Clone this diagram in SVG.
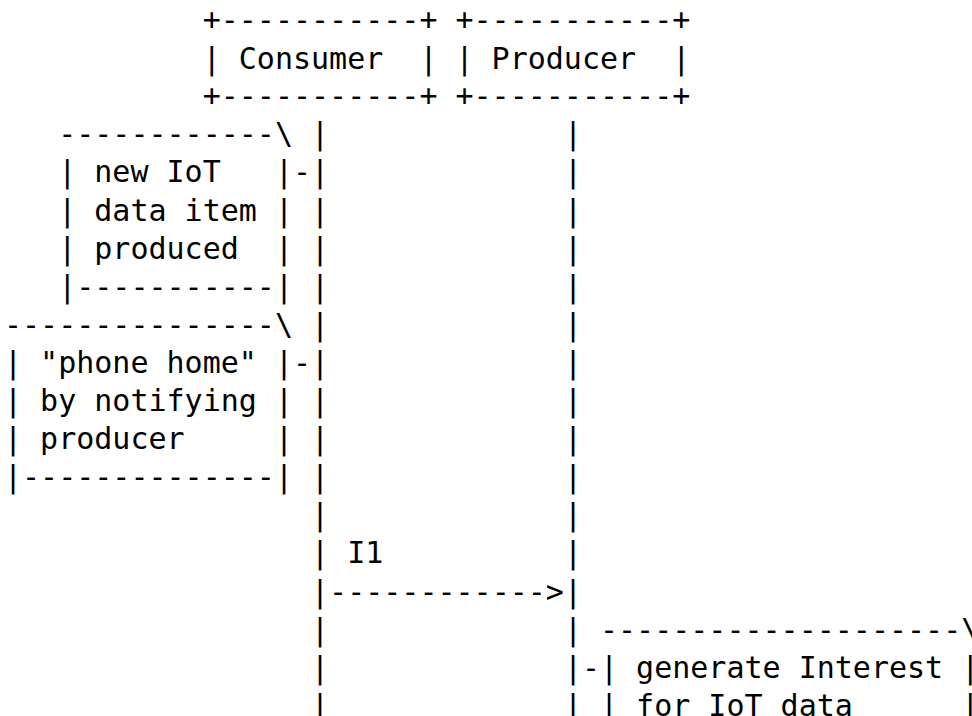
<svg xmlns="http://www.w3.org/2000/svg" width="972" height="716" viewBox="0 0 972 716">
  <style>
    text { font-family: "DejaVu Sans Mono", "Liberation Mono", monospace; font-size: 30px; fill: #000; white-space: pre; }
    .body { font-family: "Noto Sans Mono", "DejaVu Sans Mono", "Liberation Mono", monospace; }
  </style>
  <rect width="972" height="716" fill="#fff"/>

  <!-- participant boxes -->
  <g id="consumer">
    <text x="202.66" y="30" xml:space="preserve">+-----------+</text>
    <text x="202.66" y="68.6" xml:space="preserve">| Consumer  |</text>
    <text x="202.66" y="106.2" xml:space="preserve">+-----------+</text>
  </g>
  <g id="producer">
    <text x="455.5" y="30" xml:space="preserve">+-----------+</text>
    <text x="455.5" y="68.6" xml:space="preserve">| Producer  |</text>
    <text x="455.5" y="106.2" xml:space="preserve">+-----------+</text>
  </g>

  <g class="body">
    <!-- note: new IoT data item produced -->
    <g id="note-new-data">
      <text x="58.18" y="144.3" xml:space="preserve">------------\</text>
      <text x="58.18" y="182.4" xml:space="preserve">| new IoT   |-</text>
      <text x="58.18" y="220.5" xml:space="preserve">| data item |</text>
      <text x="58.18" y="258.6" xml:space="preserve">| produced  |</text>
      <text x="58.18" y="296.7" xml:space="preserve">|-----------|</text>
    </g>

    <!-- note: "phone home" by notifying producer -->
    <g id="note-phone-home">
      <text x="4" y="334.8" xml:space="preserve">---------------\</text>
      <text x="4" y="372.9" xml:space="preserve">| "phone home" |-</text>
      <text x="4" y="411" xml:space="preserve">| by notifying |</text>
      <text x="4" y="449.1" xml:space="preserve">| producer     |</text>
      <text x="4" y="487.2" xml:space="preserve">|--------------|</text>
    </g>

    <!-- note: generate Interest for IoT data -->
    <g id="note-generate-interest">
      <text x="581.92" y="639.6" xml:space="preserve"> --------------------\</text>
      <text x="581.92" y="677.7" xml:space="preserve">-| generate Interest |</text>
      <text x="581.92" y="715.8" xml:space="preserve"> | for IoT data      |</text>
    </g>

    <!-- lifelines and message I1 -->
    <g id="connectors">
      <text x="311.02" y="144.3" xml:space="preserve">|             |</text>
      <text x="311.02" y="182.4" xml:space="preserve">|             |</text>
      <text x="311.02" y="220.5" xml:space="preserve">|             |</text>
      <text x="311.02" y="258.6" xml:space="preserve">|             |</text>
      <text x="311.02" y="296.7" xml:space="preserve">|             |</text>
      <text x="311.02" y="334.8" xml:space="preserve">|             |</text>
      <text x="311.02" y="372.9" xml:space="preserve">|             |</text>
      <text x="311.02" y="411" xml:space="preserve">|             |</text>
      <text x="311.02" y="449.1" xml:space="preserve">|             |</text>
      <text x="311.02" y="487.2" xml:space="preserve">|             |</text>
      <text x="311.02" y="525.3" xml:space="preserve">|             |</text>
      <text x="311.02" y="563.4" xml:space="preserve">| I1          |</text>
      <text x="311.02" y="601.5" xml:space="preserve">|------------&gt;|</text>
      <text x="311.02" y="639.6" xml:space="preserve">|             |</text>
      <text x="311.02" y="677.7" xml:space="preserve">|             |</text>
      <text x="311.02" y="715.8" xml:space="preserve">|             |</text>
    </g>
  </g>
</svg>
